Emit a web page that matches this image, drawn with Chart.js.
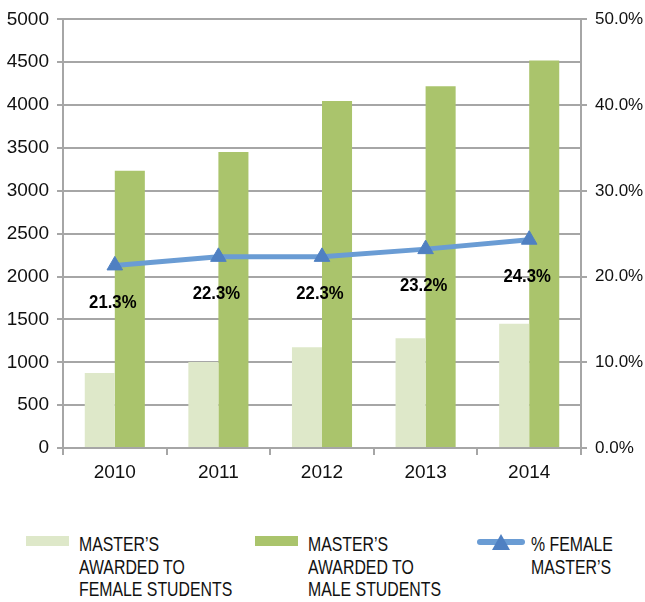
<!DOCTYPE html>
<html>
<head>
<meta charset="utf-8">
<script src="https://cdn.jsdelivr.net/npm/chart.js@4"></script>
<style>
  body { margin: 0; background: #fff; font-family: 'Liberation Sans', Arial, sans-serif; }
  #wrap { position: relative; width: 645px; height: 602px; }
  #box { position: absolute; left: 0; top: 0; width: 645px; height: 500px; }
  .leg { position: absolute; font-size: 21px; line-height: 22.5px; color: #111; transform: scaleX(0.755); transform-origin: 0 0; white-space: nowrap; }
  .sw { position: absolute; width: 43px; height: 10px; }
</style>
</head>
<body>
<div id="wrap">
  <div id="box"><canvas id="myChart"></canvas></div>
  <div class="sw" style="left:26px; top:536px; background:#dee8c9;"></div>
  <div class="leg" style="left:79px; top:533px;">MASTER’S<br>AWARDED TO<br>FEMALE STUDENTS</div>
  <div class="sw" style="left:255px; top:536px; background:#aac46c;"></div>
  <div class="leg" style="left:308px; top:533px;">MASTER’S<br>AWARDED TO<br>MALE STUDENTS</div>
  <canvas id="lineSw" width="50" height="20" style="position:absolute; left:476px; top:532px;"></canvas>
  <div class="leg" style="left:531px; top:533px;">% FEMALE<br>MASTER’S</div>
</div>
<script>
// values
years = ['2010', '2011', '2012', '2013', '2014'];
female = [876, 1004, 1174, 1279, 1450];
male = [3233, 3453, 4047, 4221, 4520];
pctFemale = [21.3, 22.3, 22.3, 23.2, 24.3];

var FONT = "'Liberation Sans', Arial, sans-serif";
var GRID = '#a6a6a6';

// legend line swatch
(function() {
    var c = document.getElementById('lineSw').getContext('2d');
    c.strokeStyle = '#6a9cd4'; c.lineWidth = 6; c.lineCap = 'round';
    c.beginPath(); c.moveTo(4, 10); c.lineTo(46, 10); c.stroke();
    c.fillStyle = '#4f80c2';
    c.beginPath(); c.moveTo(25, 2); c.lineTo(34, 18); c.lineTo(16, 18); c.closePath(); c.fill();
})();

var pctLabels = {
    id: 'pctLabels',
    afterDatasetsDraw: function(chart) {
        var ctx = chart.ctx;
        var meta = chart.getDatasetMeta(2);
        ctx.save();
        ctx.font = 'bold 19px ' + FONT;
        ctx.fillStyle = '#000';
        ctx.textAlign = 'center';
        ctx.textBaseline = 'middle';
        meta.data.forEach(function(pt, i) {
            ctx.save();
            ctx.translate(pt.x - 2, pt.y + 37);
            ctx.scale(0.88, 1);
            ctx.fillText(pctFemale[i].toFixed(1) + '%', 0, 0);
            ctx.restore();
        });
        ctx.restore();
    }
};

window.onload = function() {
    const myChart = new Chart(document.getElementById('myChart'), {
        type: 'bar',
        data: {
            labels: years,
            datasets: [{
                label: "MASTER'S AWARDED TO FEMALE STUDENTS",
                data: female,
                backgroundColor: '#dee8c9',
                yAxisID: 'y',
                order: 2,
                categoryPercentage: 0.58,
                barPercentage: 1.0
            }, {
                label: "MASTER'S AWARDED TO MALE STUDENTS",
                data: male,
                backgroundColor: '#aac46c',
                yAxisID: 'y',
                order: 2,
                categoryPercentage: 0.58,
                barPercentage: 1.0
            }, {
                type: 'line',
                label: "% FEMALE MASTER'S",
                data: pctFemale,
                yAxisID: 'y1',
                borderColor: '#6a9cd4',
                borderWidth: 5,
                pointStyle: 'triangle',
                pointRadius: 9,
                pointBackgroundColor: '#4f80c2',
                pointBorderColor: '#4f80c2',
                pointBorderWidth: 1,
                order: 1,
                fill: false,
                tension: 0
            }]
        },
        options: {
            responsive: true,
            maintainAspectRatio: false,
            animation: false,
            layout: { padding: { top: 10, left: 0, right: 0, bottom: 0 } },
            plugins: {
                legend: { display: false },
                tooltip: { enabled: false }
            },
            scales: {
                x: {
                    grid: { display: true, drawOnChartArea: false, color: GRID, lineWidth: 2, tickLength: 7, offset: true },
                    border: { color: GRID, width: 2 },
                    ticks: { color: '#111', font: { family: FONT, size: 19 }, padding: 6 },
                    afterFit: function(s) { s.height = 52; }
                },
                y: {
                    position: 'left',
                    min: 0, max: 5000,
                    ticks: {
                        stepSize: 500, color: '#111', font: { family: FONT, size: 19 }, padding: 8,
                        callback: function(v) { return String(v); }
                    },
                    grid: { color: GRID, lineWidth: 2, tickLength: 6 },
                    border: { color: GRID, width: 2 },
                    afterFit: function(s) { s.width = 63; }
                },
                y1: {
                    position: 'right',
                    min: 0, max: 50,
                    ticks: {
                        stepSize: 10, color: '#111', font: { family: FONT, size: 17 }, padding: 8,
                        callback: function(v) { return v.toFixed(1) + '%'; }
                    },
                    grid: { drawOnChartArea: false, color: GRID, lineWidth: 2, tickLength: 6 },
                    border: { color: GRID, width: 2 },
                    afterFit: function(s) { s.width = 64; }
                }
            }
        },
        plugins: [pctLabels]
    });
};
</script>
</body>
</html>
